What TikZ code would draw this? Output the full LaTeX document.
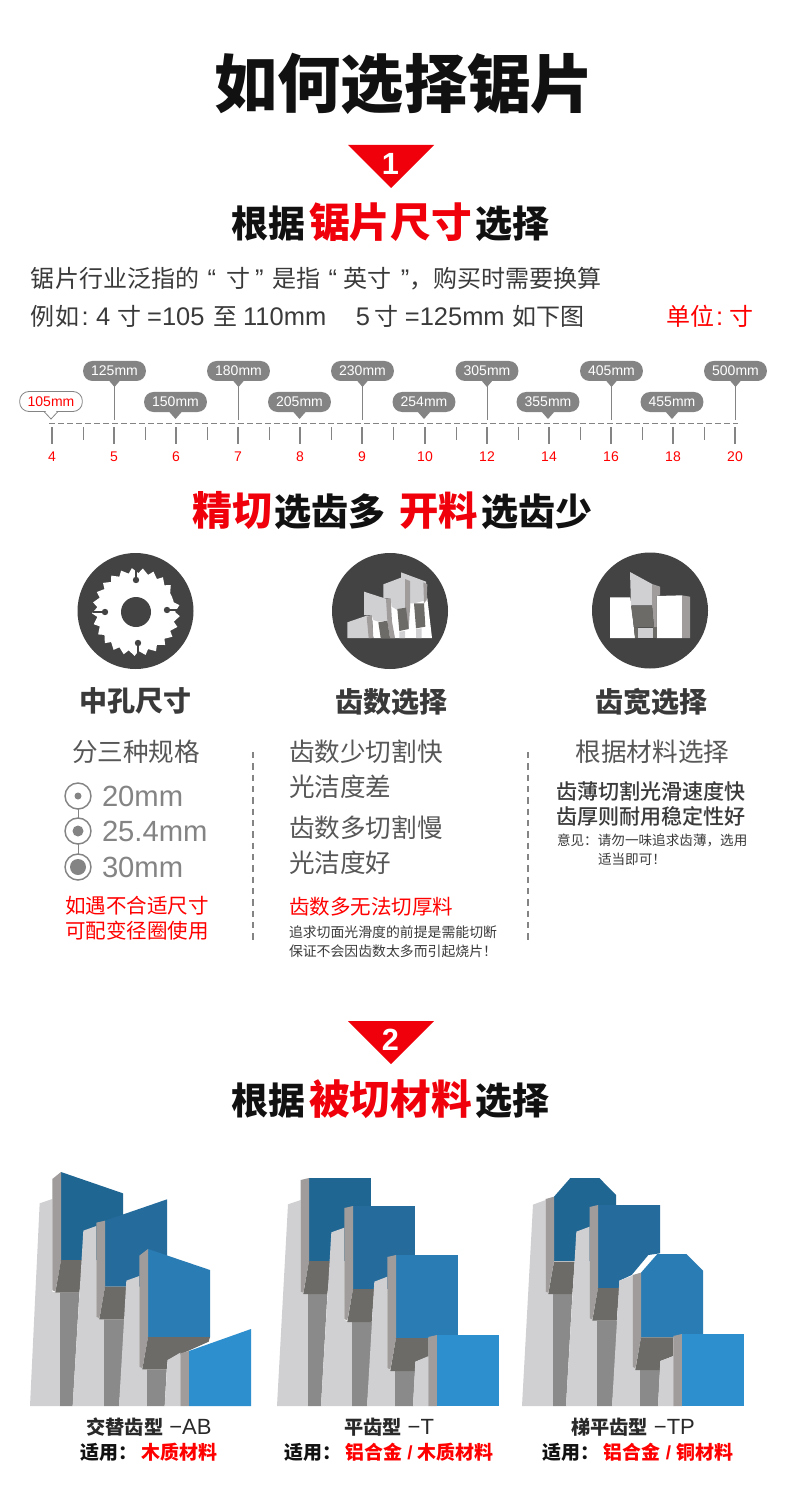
\documentclass[tikz,border=0pt]{standalone}
\usepackage{fontspec}
\setmainfont{Liberation Sans}
\newfontfamily\cjk{Noto Sans CJK SC}
\newfontfamily\cjkm{Noto Sans CJK SC Medium}
\newfontfamily\la{Liberation Sans}
\definecolor{sred}{HTML}{F0000A}
\definecolor{pred}{HTML}{FF0000}
\definecolor{ink}{HTML}{111111}
\definecolor{txt}{HTML}{3A3A3A}
\definecolor{mid}{HTML}{848484}
\definecolor{icon}{HTML}{434343}
\definecolor{lgt}{HTML}{D0D0D3}
\definecolor{stemc}{HTML}{8A8A8A}
\definecolor{sidec}{HTML}{A09C9C}
\definecolor{dk}{HTML}{6C6B67}
\definecolor{blA}{HTML}{206693}
\definecolor{blB}{HTML}{256C9C}
\definecolor{blC}{HTML}{2A7CB5}
\definecolor{blD}{HTML}{2E8FCF}
\newcommand\fsz[1]{\fontsize{#1}{#1}\selectfont}
\newcommand\hred[1]{{\fsz{30.5}\color{sred}#1}}
\newcommand\gp[1]{\hspace{#1pt}}
\tikzset{
  tx/.style={inner sep=0pt,outer sep=0pt},
  maintitle/.style={tx,font=\cjk\bfseries\fsz{47.5}\color{ink}},
  headt/.style={tx,font=\cjk\bfseries\fsz{27.75}\color{ink}},
  numb/.style={tx,font=\la\bfseries\fsz{23}\color{white}},
  para/.style={tx,anchor=west,font=\cjk\fsz{18}\color{txt}},
  subh/.style={tx,font=\cjk\bfseries\fsz{21}\color{txt}},
  bodyt/.style={tx,font=\cjk\fsz{19.2}\color{txt!85}},
  bodyl/.style={bodyt,anchor=west},
  redt/.style={tx,font=\cjk\fsz{15.4}\color{pred}},
  notet/.style={tx,anchor=west,font=\cjk\fsz{10.4}\color{txt}},
  bold3/.style={tx,anchor=west,font=\cjkm\fsz{15.8}\color{txt}},
  note3/.style={tx,anchor=west,font=\cjk\fsz{10.2}\color{txt}},
  mmt/.style={tx,anchor=west,font=\la\fsz{21.9}\color{mid}},
  capt/.style={tx,font=\cjk\bfseries\fsz{14.2}\color{ink}},
  capl/.style={tx,font=\cjk\bfseries\fsz{14.4}\color{ink!90}},
  tickl/.style={tx,font=\la\fsz{10.5}\color{pred}},
  bub/.style={tx,fill=mid,rounded corners=7pt,minimum width=47pt,minimum height=15pt,font=\la\fsz{10.5}\color{white}},
  bubw/.style={tx,draw=mid,line width=.6pt,fill=white,rounded corners=7pt,minimum width=47pt,minimum height=15pt,font=\la\fsz{10.5}\color{pred}},
  ruler/.style={mid,line width=.75pt},
  vdash/.style={mid,line width=1.5pt,dash pattern=on 4.8pt off 3.7pt},
  zoomed/.style={x=.25pt,y=-.25pt}
}
\newcommand\lat[1]{{\la\fsz{19.1}#1}}
\newcommand\caplat[1]{{\la\mdseries\fsz{16.5}#1}}
\begin{document}
\begin{tikzpicture}[x=.75pt,y=-.75pt]
\useasboundingbox (0,0) rectangle (790,1508);
\fill[white] (0,0) rectangle (790,1508);

% title
\node[maintitle] (t0) at (404,84) {如何选择锯片};
\fill[sred] (348,145) -- (434,145) -- (391,188) -- cycle;
\node[numb] (n1) at (390.5,164) {1};
\node[headt] (h1) at (390.5,222.5) {根据\gp{3}\hred{锯片尺寸}\gp{3}选择};
\node[para] (p1) at (31,279) {锯片行业泛指的\gp{6.4}{\lat{“}}\gp{7.9}寸\gp{3.4}{\lat{”}}\gp{6.4}是指\gp{6.4}{\lat{“}}\gp{4.9}英寸\gp{7}{\lat{”}}\gp{0.3}，购买时需要换算};
\node[para] (p2) at (31,316) {例如\gp{1.9}\lat{:}\gp{5.6}\lat{4}\gp{5.2}寸\gp{4.5}\lat{=105}\gp{6.5}至\gp{4.5}\lat{110mm}\gp{22.2}\lat{5}\gp{3.7}寸\gp{4.5}\lat{=125mm}\gp{6}如下图};
\node[para,font=\cjk\fsz{18}\color{pred}] (p3) at (666,316) {单位\gp{1.5}\lat{:}\gp{4.5}寸};

% ruler
\coordinate (rl) at (49,423);
\coordinate (rr) at (738,423);
\draw[ruler,dash pattern=on 4.3pt off 2.45pt] (rl) -- (rr);
\foreach \x/\t in {52/4,114/5,176/6,238/7,300/8,362/9,425/10,487/12,549/14,611/16,673/18,735/20}{
  \coordinate (ma\t) at (\x,427);
  \coordinate (mb\t) at (\x,444);
  \draw[mid,line width=1.5pt] (ma\t) -- (mb\t);
  \node[tickl] (l\t) at (\x,457) {\t};
}
\foreach \i/\x in {1/83,2/145,3/207,4/269,5/331,6/393.5,7/456,8/518,9/580,10/642,11/704}{
  \coordinate (na\i) at (\x,427);
  \coordinate (nb\i) at (\x,440);
  \draw[mid,line width=.6pt] (na\i) -- (nb\i);
}
\foreach \x/\t in {114.5/125,238.5/180,362.5/230,487/305,611.5/405,735.5/500}{
  \node[bub] (b\t) at (\x,371) {\t mm};
  \fill[mid] (b\t.south) ++(-6,-1) -- ++(6,7) -- ++(6,-7) -- cycle;
  \coordinate (bf\t) at (\x,420);
  \draw[mid,line width=.75pt] (b\t.south) -- (bf\t);
}
\foreach \x/\t in {175.5/150,299.5/205,424/254,548/355,672/455}{
  \node[bub] (b\t) at (\x,402) {\t mm};
  \fill[mid] (b\t.south) ++(-7,-1) -- ++(7,8) -- ++(7,-8) -- cycle;
}
\node[bubw] (b105) at (51,401.5) {105mm};
\fill[white] (b105.south) ++(-6,-1) -- ++(6,7.5) -- ++(6,-7.5) -- cycle;
\draw[mid,line width=.6pt] (b105.south) ++(-7,0) -- ++(7,7.5) -- ++(7,-7.5);

% heading 2
\node[headt] (h2) at (392.5,510) {{\fsz{30}\color{sred}精切}\gp{2}选齿多\gp{10}{\fsz{29.5}\color{sred}开料}\gp{3}选齿少};

% icon circles
\fill[icon] (135.5,611) circle[radius=58];
\fill[icon] (390,611) circle[radius=58];
\fill[icon] (650,610.5) circle[radius=58];

% saw
\fill[white] (136,612) circle[radius=39];
\foreach \a in {0,14.4,...,345}{
  \fill[white] (136,612) -- +(\a:39) -- +({\a-9}:44) -- +({\a-14.4}:39) -- cycle;
}
\fill[icon] (136,612) circle[radius=15];
\draw[icon,line width=1pt] (136,567) -- (136,580);
\draw[icon,line width=1pt] (167,610) -- (179,610);
\draw[icon,line width=1pt] (105,612) -- (93,612);
\draw[icon,line width=1pt] (138,643) -- (138,655);
\fill[icon] (136,580) circle[radius=3.2];
\fill[icon] (167,610) circle[radius=3.2];
\fill[icon] (105,612) circle[radius=3.2];
\fill[icon] (138,643) circle[radius=3.2];

% icon 2
\begin{scope}[shift={(340,565)},zoomed]
\fill[white] (96,155) -- (152,110) -- (262,100) -- (276,219) -- (100,219) -- cycle;
\fill[lgt] (22,172) -- (80,152) -- (95,155) -- (95,219) -- (22,219) -- cycle;
\fill[sidec] (80,155) -- (96,152) -- (100,219) -- (86,219) -- cycle;
\fill[lgt] (72,80) -- (140,102) -- (152,100) -- (153,165) -- (115,170) -- (100,165) -- (96,152) -- (72,150) -- cycle;
\fill[sidec] (138,102) -- (152,100) -- (156,170) -- (165,219) -- (150,219) -- (142,167) -- cycle;
\fill[dk] (115,172) -- (142,167) -- (150,219) -- (122,219) -- cycle;
\fill[lgt] (130,58) -- (183,38) -- (183,22) -- (258,50) -- (262,105) -- (222,115) -- (210,115) -- (210,130) -- (172,135) -- (155,125) -- (152,100) -- (130,100) -- cycle;
\fill[sidec] (195,42) -- (210,48) -- (210,130) -- (206,192) -- (195,190) -- cycle;
\fill[sidec] (250,52) -- (262,58) -- (260,105) -- (252,115) -- cycle;
\fill[dk] (172,132) -- (198,128) -- (206,192) -- (178,198) -- cycle;
\fill[dk] (222,115) -- (252,115) -- (256,185) -- (228,190) -- cycle;
\fill[lgt] (178,200) -- (195,198) -- (195,219) -- (178,219) -- cycle;
\fill[lgt] (228,192) -- (245,190) -- (245,219) -- (228,219) -- cycle;
\end{scope}

% icon 3
\begin{scope}[shift={(560,540)},zoomed]
\fill[white] (150,172) -- (211,172) -- (225,294) -- (150,294) -- cycle;
\fill[white] (290,168) -- (366,166) -- (366,294) -- (290,294) -- cycle;
\fill[sidec] (366,166) -- (390,170) -- (390,294) -- (366,294) -- cycle;
\fill[lgt] (210,96) -- (276,132) -- (276,196) -- (213,196) -- cycle;
\fill[sidec] (276,132) -- (300,140) -- (300,166) -- (290,168) -- (290,262) -- (282,262) -- (276,196) -- cycle;
\fill[dk] (213,198) -- (276,198) -- (282,262) -- (222,262) -- cycle;
\fill[dk] (222,262) -- (234,262) -- (234,294) -- (225,294) -- cycle;
\fill[dk] (280,262) -- (290,262) -- (290,294) -- (280,294) -- cycle;
\fill[lgt] (234,263) -- (280,263) -- (280,294) -- (234,294) -- cycle;
\end{scope}

% column titles
\node[subh] (c1) at (135,701) {中孔尺寸};
\node[subh] (c2) at (391,702) {齿数选择};
\node[subh] (c3) at (651,702) {齿宽选择};

% column 1
\node[bodyt] (c1a) at (136,752) {分三种规格};
\coordinate (r1) at (78,796);
\coordinate (r2) at (78,831);
\coordinate (r3) at (78,867);
\draw[mid,line width=.75pt] (r1) -- (r3);
\foreach \c/\d in {r1/3.5,r2/5.5,r3/8}{
  \fill[white] (\c) circle[radius=13];
  \draw[mid,line width=1.1pt] (\c) circle[radius=13];
  \fill[mid] (\c) circle[radius=\d];
}
\node[mmt] (m1) at (102,796) {20mm};
\node[mmt] (m2) at (102,831) {25.4mm};
\node[mmt] (m3) at (102,867) {30mm};
\node[redt] (c1b) at (137,906) {如遇不合适尺寸};
\node[redt] (c1c) at (137,931) {可配变径圈使用};

% dividers
\coordinate (d1a) at (253,752); \coordinate (d1b) at (253,944);
\coordinate (d2a) at (528,752); \coordinate (d2b) at (528,944);
\draw[vdash] (d1a) -- (d1b);
\draw[vdash] (d2a) -- (d2b);

% column 2
\node[bodyl] (c2a) at (289,752) {齿数少切割快};
\node[bodyl] (c2b) at (289,787) {光洁度差};
\node[bodyl] (c2c) at (289,828) {齿数多切割慢};
\node[bodyl] (c2d) at (289,863) {光洁度好};
\node[redt,anchor=west] (c2e) at (289,907) {齿数多无法切厚料};
\node[notet] (c2f) at (289,932) {追求切面光滑度的前提是需能切断};
\node[notet] (c2g) at (289,951) {保证不会因齿数太多而引起烧片！};

% column 3
\node[bodyt] (c3a) at (652.5,752) {根据材料选择};
\node[bold3] (c3b) at (556,791) {齿薄切割光滑速度快};
\node[bold3] (c3c) at (556,816) {齿厚则耐用稳定性好};
\node[note3] (c3d) at (557,840) {意见：请勿一味追求齿薄，选用};
\node[note3] (c3e) at (598,859) {适当即可！};

% section 2
\fill[sred] (348,1021) -- (434,1021) -- (391,1064) -- cycle;
\node[numb] (n2) at (390.5,1040) {2};
\node[headt] (h3) at (390.5,1099) {根据\gp{3}\hred{被切材料}\gp{3}选择};

% teeth AB
\begin{scope}[shift={(20,1160)},zoomed]
\fill[lgt] (59,130) -- (97,117) -- (97,395) -- (120,400) -- (120,738) -- (30,738) -- cycle;
\fill[stemc] (120,398) -- (178,398) -- (158,738) -- (120,738) -- cycle;
\fill[blA] (123,36) -- (309,100) -- (309,300) -- (123,300) -- cycle;
\fill[sidec] (97,57) -- (123,36) -- (123,300) -- (106,395) -- (97,390) -- cycle;
\fill[dk] (123,300) -- (190,300) -- (178,398) -- (106,398) -- cycle;
\fill[lgt] (190,212) -- (229,198) -- (229,470) -- (252,478) -- (252,738) -- (158,738) -- cycle;
\fill[stemc] (252,478) -- (318,478) -- (297,738) -- (252,738) -- cycle;
\fill[blB] (255,182) -- (441,118) -- (441,380) -- (255,380) -- cycle;
\fill[sidec] (229,188) -- (255,182) -- (255,380) -- (238,475) -- (229,470) -- cycle;
\fill[dk] (255,380) -- (320,380) -- (318,478) -- (238,478) -- cycle;
\fill[lgt] (319,362) -- (358,348) -- (358,620) -- (381,628) -- (381,738) -- (297,738) -- cycle;
\fill[stemc] (381,628) -- (440,628) -- (434,738) -- (381,738) -- cycle;
\fill[blC] (384,267) -- (570,330) -- (570,531) -- (384,531) -- cycle;
\fill[sidec] (358,287) -- (384,267) -- (384,531) -- (367,625) -- (358,620) -- cycle;
\fill[dk] (384,531) -- (570,531) -- (566,545) -- (443,600) -- (440,628) -- (367,628) -- cycle;
\fill[lgt] (443,600) -- (481,578) -- (481,738) -- (434,738) -- cycle;
\fill[sidec] (481,580) -- (507,573) -- (507,738) -- (481,738) -- cycle;
\fill[blD] (507,573) -- (693,507) -- (693,738) -- (507,738) -- cycle;
\end{scope}

% teeth T
\begin{scope}[shift={(270,1160)},zoomed]
\fill[lgt] (54,133) -- (92,120) -- (92,395) -- (114,402) -- (114,738) -- (21,738) -- cycle;
\fill[stemc] (114,402) -- (172,402) -- (153,738) -- (114,738) -- cycle;
\fill[blA] (117,54) -- (303,54) -- (303,303) -- (117,303) -- cycle;
\fill[sidec] (92,60) -- (117,54) -- (117,303) -- (100,398) -- (92,395) -- cycle;
\fill[dk] (117,303) -- (184,303) -- (172,402) -- (100,402) -- cycle;
\fill[lgt] (184,217) -- (223,203) -- (223,480) -- (246,486) -- (246,738) -- (153,738) -- cycle;
\fill[stemc] (246,486) -- (313,486) -- (291,738) -- (246,738) -- cycle;
\fill[blB] (249,138) -- (435,138) -- (435,387) -- (249,387) -- cycle;
\fill[sidec] (223,144) -- (249,138) -- (249,387) -- (232,480) -- (223,478) -- cycle;
\fill[dk] (249,387) -- (313,387) -- (305,486) -- (232,486) -- cycle;
\fill[lgt] (313,365) -- (352,350) -- (352,626) -- (375,633) -- (375,738) -- (291,738) -- cycle;
\fill[stemc] (375,633) -- (435,633) -- (429,738) -- (375,738) -- cycle;
\fill[blC] (378,285) -- (564,285) -- (564,534) -- (378,534) -- cycle;
\fill[sidec] (352,291) -- (378,285) -- (378,534) -- (361,628) -- (352,625) -- cycle;
\fill[dk] (378,534) -- (476,534) -- (476,590) -- (436,605) -- (435,633) -- (361,633) -- cycle;
\fill[lgt] (436,605) -- (476,588) -- (476,738) -- (429,738) -- cycle;
\fill[sidec] (475,531) -- (501,525) -- (501,738) -- (475,738) -- cycle;
\fill[blD] (501,525) -- (687,525) -- (687,738) -- (501,738) -- cycle;
\end{scope}

% teeth TP
\begin{scope}[shift={(510,1160)},zoomed]
\fill[lgt] (69,134) -- (107,120) -- (107,395) -- (129,402) -- (129,738) -- (36,738) -- cycle;
\fill[stemc] (129,402) -- (187,402) -- (168,738) -- (129,738) -- cycle;
\fill[blA] (132,110) -- (181,54) -- (268,54) -- (318,105) -- (318,303) -- (132,303) -- cycle;
\fill[sidec] (107,117) -- (132,110) -- (132,303) -- (115,398) -- (107,395) -- cycle;
\fill[dk] (132,305) -- (194,305) -- (187,402) -- (115,402) -- cycle;
\fill[lgt] (199,215) -- (239,200) -- (239,475) -- (261,482) -- (261,738) -- (168,738) -- cycle;
\fill[stemc] (261,482) -- (328,482) -- (306,738) -- (261,738) -- cycle;
\fill[blB] (264,135) -- (450,135) -- (450,280) -- (415,285) -- (365,345) -- (328,362) -- (328,384) -- (264,384) -- cycle;
\fill[sidec] (239,141) -- (264,135) -- (264,384) -- (247,478) -- (239,475) -- cycle;
\fill[dk] (264,384) -- (328,384) -- (320,482) -- (247,482) -- cycle;
\fill[lgt] (328,362) -- (368,347) -- (368,620) -- (390,630) -- (390,738) -- (306,738) -- cycle;
\fill[stemc] (390,630) -- (450,630) -- (444,738) -- (390,738) -- cycle;
\fill[blC] (393,338) -- (442,282) -- (529,282) -- (579,332) -- (579,532) -- (393,532) -- cycle;
\fill[sidec] (368,345) -- (393,338) -- (393,532) -- (376,625) -- (368,620) -- cycle;
\fill[dk] (393,532) -- (490,532) -- (490,588) -- (451,603) -- (450,630) -- (376,630) -- cycle;
\fill[lgt] (451,603) -- (491,588) -- (491,738) -- (444,738) -- cycle;
\fill[sidec] (490,528) -- (516,522) -- (516,738) -- (490,738) -- cycle;
\fill[blD] (516,522) -- (702,522) -- (702,738) -- (516,738) -- cycle;
\end{scope}

% captions
\node[capl] (k1) at (149,1427) {交替齿型\gp{4.5}\caplat{−AB}};
\node[capt] (k2) at (149,1452) {适用：{\color{pred}\ 木质材料}};
\node[capl] (k3) at (389,1427) {平齿型\gp{4.5}\caplat{−T}};
\node[capt] (k4) at (389,1452) {适用：{\color{pred}\ 铝合金{\la\bfseries\ / }木质材料}};
\node[capl] (k5) at (633,1427) {梯平齿型\gp{4.5}\caplat{−TP}};
\node[capt] (k6) at (638,1452) {适用：{\color{pred}\ 铝合金{\la\bfseries\ / }铜材料}};
\end{tikzpicture}
\end{document}
